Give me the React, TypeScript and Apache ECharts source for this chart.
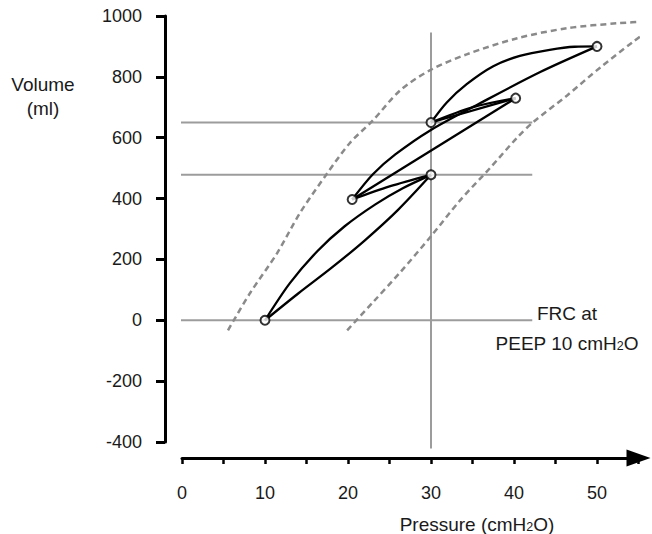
import { useEffect, useRef } from 'react';
import * as echarts from 'echarts';

const FONT = '"Liberation Sans", Arial, Helvetica, sans-serif';

// Axes
const pressureMin = 0;
const pressureMax = 55;
const pressureStep = 5;
const pressureLabelStep = 10;
const volumeMin = -400;
const volumeMax = 1000;
const volumeStep = 200;

// Key points of the loops: [pressure cmH2O, volume ml]
const breathPoints = [
  [10, 0],
  [30, 478],
  [20.5, 397],
  [30, 650],
  [40.2, 730],
  [50, 900],
];

// Loop limbs
const loopAUpper = [[10, 0], [13.0, 122], [16.3, 227], [19.6, 309], [23.3, 381], [26.6, 434], [30, 478]];
const loopALower = [[10, 0], [14, 88], [18, 172], [22, 262], [26, 362], [30, 478]];
const limbCB = [[20.5, 397], [25, 440], [30, 478]];
const limbCE = [[20.5, 397], [40.2, 730]];
const limbCF = [[20.5, 397], [23.0, 480], [25.7, 545], [29.9, 624], [35.9, 713], [43.1, 815], [50, 900]];
const limbDE = [[30, 650], [40.2, 730]];
const limbDEUpper = [[30, 650], [35, 700], [40.2, 730]];
const limbDF = [[30, 650], [31.9, 716], [34.3, 776], [37.5, 835], [40.7, 869], [44.3, 889], [47.3, 899], [50, 900]];

// Dashed envelope curves
const leftEnvelope = [
  [5.54, -33], [8.19, 89], [11.45, 220], [14.2, 352], [17.5, 483], [20.2, 582], [23.0, 657],
  [26.3, 756], [29.9, 822], [34.3, 874], [40.4, 927], [46.4, 960], [52.4, 976], [56.6, 983],
];
const rightEnvelope = [
  [19.9, -33], [23.0, 59], [26.3, 158], [29.9, 273], [33.5, 394], [37.1, 500], [40.4, 601],
  [42.3, 651], [46.4, 739], [50.4, 831], [54.3, 914], [56.6, 960],
];

// Reference lines
const refVolumes = [0, 478, 650];
const refPressureStart = -2.05;
const refPressureEnd = 42.2;
const verticalPressure = 30;
const verticalVolumeRange = [-421, 946];

export default function App() {
  const ref = useRef<HTMLDivElement>(null);

  useEffect(() => {
    if (!ref.current) return;
    const chart = echarts.init(ref.current, undefined, { renderer: 'svg' });

    const blackLine = (data: number[][], smooth = 0.3) => ({
      type: 'line',
      data,
      symbol: 'none',
      showSymbol: false,
      smooth,
      clip: false,
      silent: true,
      lineStyle: { color: '#000', width: 2.3 },
      z: 3,
    });

    const greyLine = (data: number[][]) => ({
      type: 'line',
      data,
      symbol: 'none',
      showSymbol: false,
      clip: false,
      silent: true,
      lineStyle: { color: '#9c9c9c', width: 2 },
      z: 1,
    });

    const dashed = (data: number[][]) => ({
      type: 'line',
      data,
      symbol: 'none',
      showSymbol: false,
      smooth: 0.3,
      clip: false,
      silent: true,
      lineStyle: { color: '#8a8a8a', width: 2.5, type: [6, 4] },
      z: 2,
    });

    const series: any[] = [];
    refVolumes.forEach((v) => series.push(greyLine([[refPressureStart, v], [refPressureEnd, v]])));
    series.push(greyLine([[verticalPressure, verticalVolumeRange[0]], [verticalPressure, verticalVolumeRange[1]]]));
    series.push(dashed(leftEnvelope));
    series.push(dashed(rightEnvelope));
    series.push(blackLine(loopAUpper));
    series.push(blackLine(loopALower));
    series.push(blackLine(limbCB));
    series.push(blackLine(limbCE, 0));
    series.push(blackLine(limbCF));
    series.push(blackLine(limbDE, 0));
    series.push(blackLine(limbDEUpper));
    series.push(blackLine(limbDF));
    series.push({
      type: 'scatter',
      data: breathPoints,
      symbol: 'circle',
      symbolSize: 9,
      clip: false,
      silent: true,
      itemStyle: { color: '#fff', borderColor: '#000', borderWidth: 2 },
      z: 5,
    });

    const textBase = { fontFamily: FONT, fontSize: 19, fill: '#1a1a1a' };
    const sub = { s: { fontSize: 12.5, fontFamily: FONT, fill: '#1a1a1a', verticalAlign: 'bottom', lineHeight: 12 } };

    chart.setOption({
      animation: false,
      backgroundColor: '#fff',
      grid: {
        left: 182,
        top: 16,
        width: 456.5,
        height: 426,
        containLabel: false,
        outerBoundsMode: 'none',
      },
      xAxis: {
        type: 'value',
        min: pressureMin,
        max: pressureMax,
        interval: pressureStep,
        offset: 16,
        axisLine: {
          show: true,
          onZero: false,
          lineStyle: { color: '#000', width: 3 },
          symbol: ['none', 'triangle'],
          symbolSize: [17, 24],
        },
        axisTick: { show: true, inside: false, length: 6, lineStyle: { color: '#000', width: 2.5 } },
        axisLabel: {
          margin: 26,
          fontFamily: FONT,
          fontSize: 18,
          color: '#1a1a1a',
          formatter: (v: number) => (v % pressureLabelStep === 0 && v <= 50 ? String(v) : ''),
        },
        splitLine: { show: false },
      },
      yAxis: {
        type: 'value',
        min: volumeMin,
        max: volumeMax,
        interval: volumeStep,
        offset: 17,
        axisLine: { show: true, onZero: false, lineStyle: { color: '#000', width: 3 } },
        axisTick: { show: true, inside: false, length: 9, lineStyle: { color: '#000', width: 3 } },
        axisLabel: {
          margin: 23,
          fontFamily: FONT,
          fontSize: 18,
          color: '#1a1a1a',
          formatter: (v: number) => String(v),
        },
        splitLine: { show: false },
      },
      graphic: [
        {
          type: 'text',
          x: 43,
          y: 96,
          style: { ...textBase, text: 'Volume\n(ml)', align: 'center', verticalAlign: 'middle', textAlign: 'center', textVerticalAlign: 'middle', lineHeight: 24 },
        },
        {
          type: 'text',
          x: 477,
          y: 524,
          style: { ...textBase, text: 'Pressure (cmH{s|2}O)', rich: sub, align: 'center', verticalAlign: 'middle', textAlign: 'center', textVerticalAlign: 'middle' },
        },
        {
          type: 'text',
          x: 567,
          y: 313,
          style: { ...textBase, text: 'FRC at', align: 'center', verticalAlign: 'middle', textAlign: 'center', textVerticalAlign: 'middle' },
        },
        {
          type: 'text',
          x: 567,
          y: 343,
          style: { ...textBase, text: 'PEEP 10 cmH{s|2}O', rich: sub, align: 'center', verticalAlign: 'middle', textAlign: 'center', textVerticalAlign: 'middle' },
        },
      ],
      series,
    });

    return () => chart.dispose();
  }, []);

  return (
    <div
      ref={ref}
      style={{ position: 'fixed', left: 0, top: 0, width: 652, height: 534, background: '#fff' }}
    />
  );
}
